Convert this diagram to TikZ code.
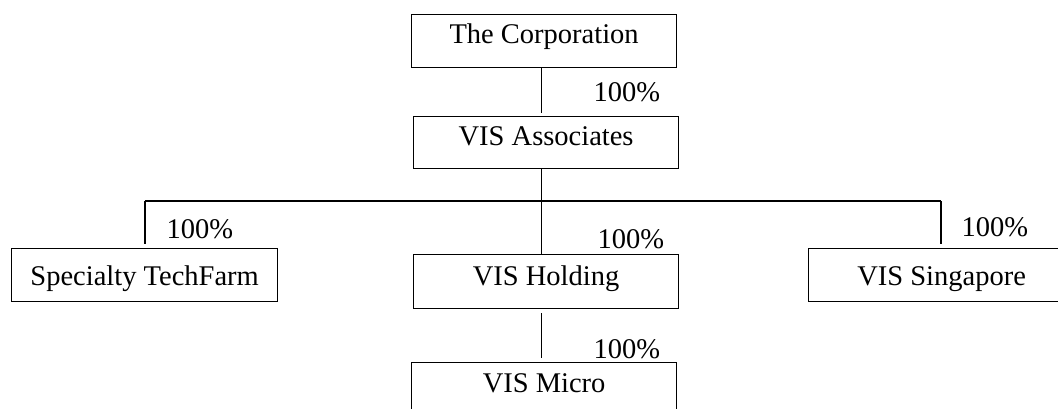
\documentclass[tikz,border=0pt]{standalone}
\usepackage{fontspec}
\setmainfont{Liberation Serif}
\begin{document}
\begin{tikzpicture}[x=1pt,y=-1pt,line width=1.2pt,
  every node/.style={font=\fontsize{28.5pt}{34pt}\selectfont},
  orgbox/.style={draw, rectangle, anchor=north west, minimum width=265pt,
    inner xsep=0pt, inner ysep=0pt, align=center},
  pct/.style={anchor=base west, inner sep=0pt}]
\useasboundingbox (0,0) rectangle (1058,409);
\clip (0,0) rectangle (1058,409);
% boxes
\node[orgbox, text height=29pt, text depth=24pt] (corp) at (411,14) {The Corporation};
\node[orgbox, text height=29pt, text depth=23pt] (assoc) at (413,116) {VIS Associates};
\node[orgbox, minimum width=266pt, text height=37pt, text depth=16pt] (spec) at (11,248) {Specialty TechFarm};
\node[orgbox, text height=31pt, text depth=23pt] (hold) at (413,254) {VIS Holding};
\node[orgbox, minimum width=266pt, text height=37pt, text depth=16pt] (sing) at (808,248) {VIS Singapore};
\node[orgbox, text height=30pt, text depth=23pt] (micro) at (411,362) {VIS Micro};
% connector coordinates
\coordinate (busM) at (541.5,201);
\coordinate (busL) at (145,201);
\coordinate (busR) at (941,201);
% connectors
\draw (corp.south -| busM) -- ++(0,45);
\draw (assoc.south -| busM) -- (busM);
\draw (busL) -- (busR);
\draw (busM) -- (hold.north -| busM);
\draw (busL) -- ++(0,43);
\draw (busR) -- ++(0,43);
\draw (hold.south -| busM) ++(0,4) -- ++(0,45);
% percentages
\node[pct] (p1) at (593,102) {100\%};
\node[pct] (p2) at (597,248) {100\%};
\node[pct] (p3) at (166,238) {100\%};
\node[pct] (p4) at (961,236) {100\%};
\node[pct] (p5) at (593,358) {100\%};
\end{tikzpicture}
\end{document}
